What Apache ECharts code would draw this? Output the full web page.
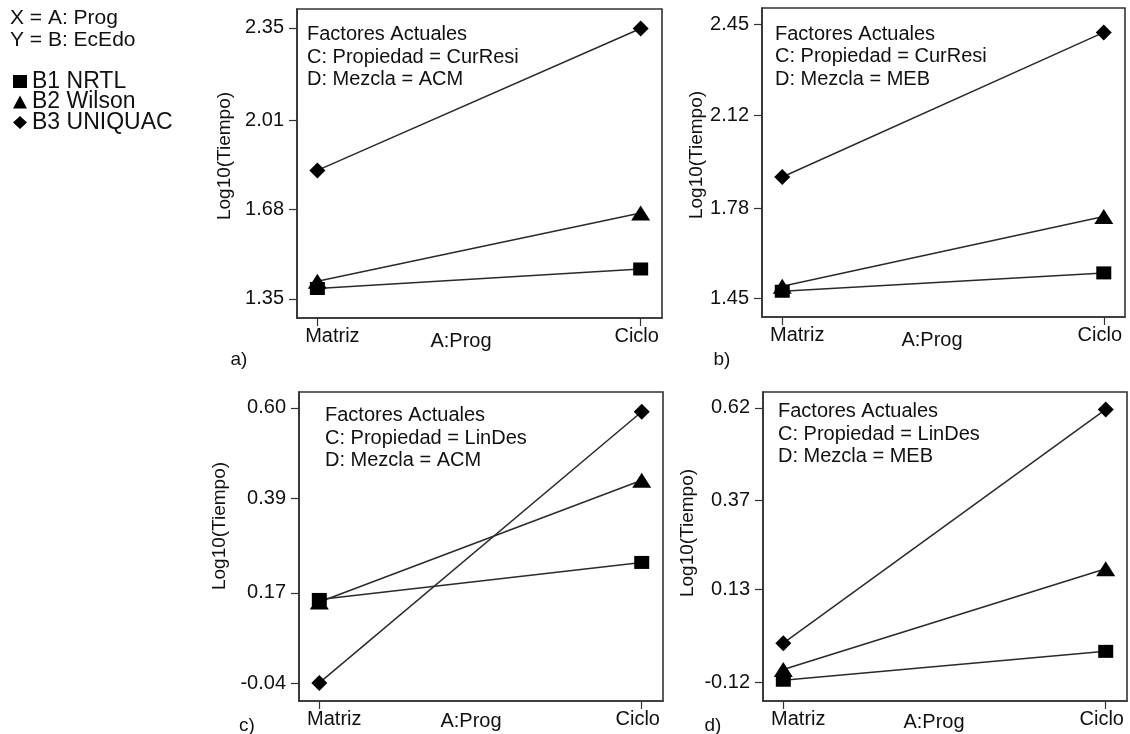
<!DOCTYPE html>
<html>
<head>
<meta charset="utf-8">
<script src="https://cdn.jsdelivr.net/npm/echarts@6/dist/echarts.min.js"></script>
<style>html,body{margin:0;padding:0;background:#fff}#c{width:1130px;height:734px}</style>
</head>
<body>
<div id="c"></div>
<script>
// ---------- data ----------
const categories = ['Matriz', 'Ciclo'];
const seriesNames = ['B1 NRTL', 'B2 Wilson', 'B3 UNIQUAC'];

// panel a) CurResi / ACM
const nrtlA = [1.388, 1.460];
const wilsonA = [1.415, 1.667];
const uniquacA = [1.824, 2.348];
// panel b) CurResi / MEB
const nrtlB = [1.477, 1.544];
const wilsonB = [1.495, 1.750];
const uniquacB = [1.894, 2.422];
// panel c) LinDes / ACM
const nrtlC = [0.155, 0.241];
const wilsonC = [0.149, 0.432];
const uniquacC = [-0.039, 0.591];
// panel d) LinDes / MEB
const nrtlD = [-0.115, -0.037];
const wilsonD = [-0.086, 0.186];
const uniquacD = [-0.015, 0.616];

const yTicksA = ['1.35', '1.68', '2.01', '2.35'];
const yTicksB = ['1.45', '1.78', '2.12', '2.45'];
const yTicksC = ['-0.04', '0.17', '0.39', '0.60'];
const yTicksD = ['-0.12', '0.13', '0.37', '0.62'];

const factorsA = ['Factores Actuales', 'C: Propiedad = CurResi', 'D: Mezcla = ACM'];
const factorsB = ['Factores Actuales', 'C: Propiedad = CurResi', 'D: Mezcla = MEB'];
const factorsC = ['Factores Actuales', 'C: Propiedad = LinDes', 'D: Mezcla = ACM'];
const factorsD = ['Factores Actuales', 'C: Propiedad = LinDes', 'D: Mezcla = MEB'];

const xTitle = 'A:Prog';
const yTitle = 'Log10(Tiempo)';
const panelTags = ['a)', 'b)', 'c)', 'd)'];
const headerLines = ['X = A: Prog', 'Y = B: EcEdo'];

// ---------- layout ----------
const FONT = '"Liberation Sans", Arial, sans-serif';
const INK = '#111';
const panels = [
  { grid: { left: 297, top: 9, width: 365, height: 309 }, yMin: 1.279, yMax: 2.42, ticks: yTicksA,
    data: [nrtlA, wilsonA, uniquacA], factors: factorsA, factorPos: [307, 23.5],
    xName: [461, 341], yName: [225, 156], tag: [239, 360] },
  { grid: { left: 762, top: 8, width: 363, height: 309 }, yMin: 1.383, yMax: 2.511, ticks: yTicksB,
    data: [nrtlB, wilsonB, uniquacB], factors: factorsB, factorPos: [775, 22.8],
    xName: [932, 340], yName: [697, 155], tag: [722, 360] },
  { grid: { left: 299, top: 392, width: 364, height: 309 }, yMin: -0.081, yMax: 0.637, ticks: yTicksC,
    data: [nrtlC, wilsonC, uniquacC], factors: factorsC, factorPos: [325, 404.7],
    xName: [471, 721], yName: [220, 526], tag: [247, 726] },
  { grid: { left: 763, top: 392, width: 364, height: 309 }, yMin: -0.171, yMax: 0.663, ticks: yTicksD,
    data: [nrtlD, wilsonD, uniquacD], factors: factorsD, factorPos: [778, 400.5],
    xName: [934, 722], yName: [688, 533], tag: [713, 726] }
];
const symbols = ['rect', 'triangle', 'diamond'];
const symbolSizes = [[15, 13], [19, 15], [16, 16]];
const drawOrder = [1, 0, 2]; // Wilson under NRTL, UNIQUAC on top

const grids = [], xAxes = [], yAxes = [], series = [], graphics = [];
panels.forEach((p, i) => {
  grids.push(Object.assign({}, p.grid, {
    show: true, borderColor: '#333', borderWidth: 1.6, backgroundColor: 'transparent',
    containLabel: false, outerBoundsMode: 'none'
  }));
  xAxes.push({
    type: 'value', gridIndex: i, min: -0.063, max: 1.066,
    axisLine: { show: true, onZero: false, lineStyle: { color: '#333', width: 1.6 } },
    splitLine: { show: false },
    axisTick: { show: true, customValues: [0, 1], length: 8, lineStyle: { color: '#333', width: 1.2 } },
    axisLabel: {
      customValues: [0, 1], margin: 8,
      formatter: v => (v < 0.5 ? '{m|' + categories[0] + '}' : '{c|' + categories[1] + '}'),
      rich: {
        m: { fontSize: 20, fontFamily: FONT, color: INK, padding: [0, 0, 0, 30] },
        c: { fontSize: 20, fontFamily: FONT, color: INK, padding: [0, 8, 0, 0] }
      }
    }
  });
  const tickVals = p.ticks.map(Number);
  yAxes.push({
    type: 'value', gridIndex: i, min: p.yMin, max: p.yMax,
    axisLine: { show: true, onZero: false, lineStyle: { color: '#333', width: 1.6 } },
    splitLine: { show: false },
    axisTick: { show: true, customValues: tickVals, length: 8, lineStyle: { color: '#333', width: 1.2 } },
    axisLabel: {
      customValues: tickVals, margin: 13, fontSize: 20, fontFamily: FONT, color: INK,
      formatter: v => p.ticks[tickVals.indexOf(v)] ?? v.toFixed(2)
    }
  });
  drawOrder.forEach(k => {
    series.push({
      type: 'line', name: seriesNames[k], xAxisIndex: i, yAxisIndex: i,
      data: categories.map((c, j) => [j, p.data[k][j]]),
      symbol: symbols[k], symbolSize: symbolSizes[k], showSymbol: true,
      itemStyle: { color: '#000' },
      lineStyle: { color: '#2a2a2a', width: 1.5 },
      emphasis: { disabled: true }, animation: false
    });
  });
  graphics.push({
    type: 'text', x: p.factorPos[0], y: p.factorPos[1],
    style: { text: p.factors.join('\n'), fontSize: 20, fontFamily: FONT, fill: INK,
             lineHeight: 22.5, align: 'left', verticalAlign: 'top' }
  });
  graphics.push({
    type: 'text', x: p.xName[0], y: p.xName[1],
    style: { text: xTitle, fontSize: 20, fontFamily: FONT, fill: INK, align: 'center', verticalAlign: 'middle' }
  });
  graphics.push({
    type: 'text', x: p.yName[0], y: p.yName[1], rotation: Math.PI / 2,
    style: { text: yTitle, fontSize: 19, fontFamily: FONT, fill: INK, align: 'center', verticalAlign: 'middle' }
  });
  graphics.push({
    type: 'text', x: p.tag[0], y: p.tag[1],
    style: { text: panelTags[i], fontSize: 19, fontFamily: FONT, fill: INK, align: 'center', verticalAlign: 'middle' }
  });
});
headerLines.forEach((t, i) => {
  graphics.push({
    type: 'text', x: 10, y: 18 + i * 22,
    style: { text: t, fontSize: 21, fontFamily: FONT, fill: INK, align: 'left', verticalAlign: 'middle' }
  });
});

const chart = echarts.init(document.getElementById('c'), null, { renderer: 'canvas' });
chart.setOption({
  animation: false,
  backgroundColor: '#fff',
  textStyle: { fontFamily: FONT },
  legend: {
    orient: 'vertical', left: 8, top: 65, itemWidth: 14, itemHeight: 13, itemGap: -2.5,
    selectedMode: false,
    textStyle: { fontSize: 23, lineHeight: 20.5, color: INK, fontFamily: FONT },
    data: [
      { name: seriesNames[0], icon: symbols[0] },
      { name: seriesNames[1], icon: symbols[1] },
      { name: seriesNames[2], icon: symbols[2] }
    ]
  },
  grid: grids, xAxis: xAxes, yAxis: yAxes, series: series, graphic: graphics
});
</script>
</body>
</html>
